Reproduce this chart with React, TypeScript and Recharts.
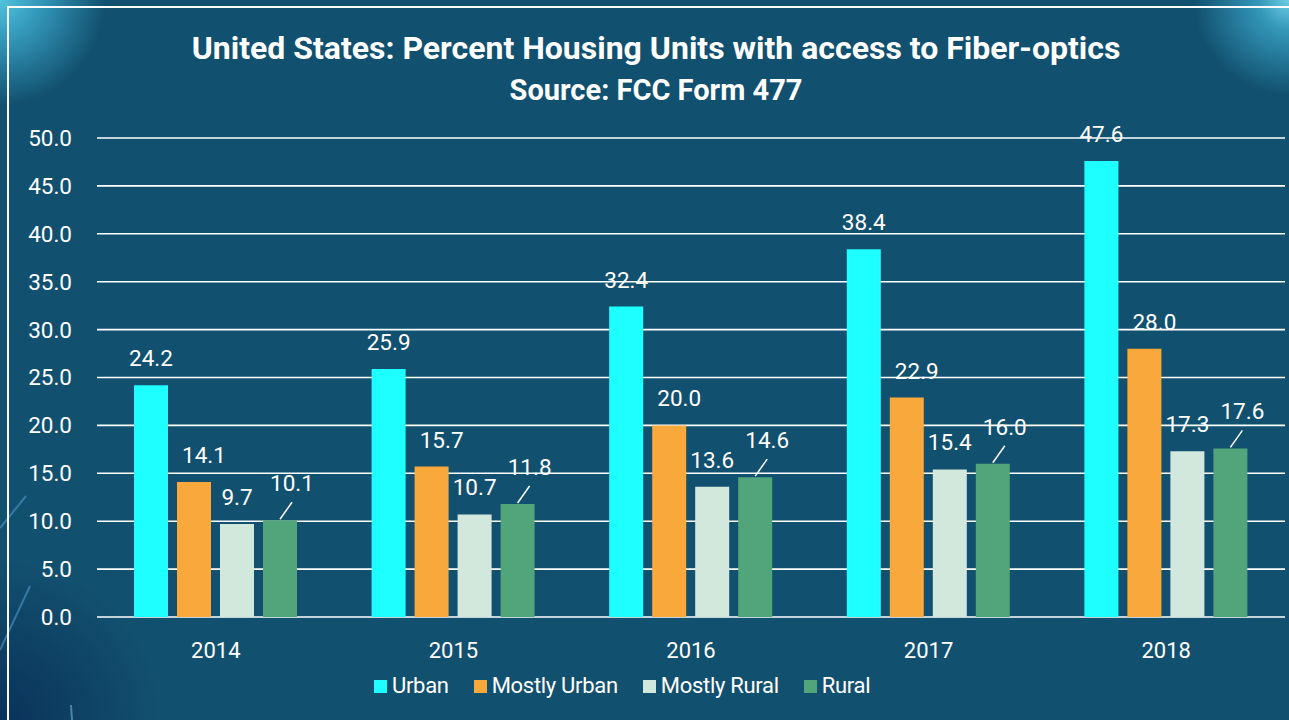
import React from 'react';
import { BarChart, Bar, XAxis, YAxis, CartesianGrid, LabelList } from 'recharts';

// ============================================================================
// Data
// ============================================================================

const years = ['2014', '2015', '2016', '2017', '2018'];
const urban = [24.2, 25.9, 32.4, 38.4, 47.6];
const mostlyUrban = [14.1, 15.7, 20.0, 22.9, 28.0];
const mostlyRural = [9.7, 10.7, 13.6, 15.4, 17.3];
const rural = [10.1, 11.8, 14.6, 16.0, 17.6];
const yTicks = [0, 5, 10, 15, 20, 25, 30, 35, 40, 45, 50];

const SERIES = [
  { key: 'urban', name: 'Urban', color: '#1EFFFF', values: urban },
  { key: 'mostlyUrban', name: 'Mostly Urban', color: '#F9A83B', values: mostlyUrban },
  { key: 'mostlyRural', name: 'Mostly Rural', color: '#D2E8DC', values: mostlyRural },
  { key: 'rural', name: 'Rural', color: '#52A57A', values: rural },
];

const chartData = years.map((year, i) => ({
  year,
  urban: urban[i],
  mostlyUrban: mostlyUrban[i],
  mostlyRural: mostlyRural[i],
  rural: rural[i],
}));

const FONT = 'Roboto, "Noto Sans", sans-serif';
const BG = '#12506F';
const LABEL_SIZE = 22.5;

// ============================================================================
// Labels
// ============================================================================

// eslint-disable-next-line @typescript-eslint/no-explicit-any
const makeLabel = (dx: number) => (props: any) => {
  const { x, y, width, value } = props;
  const cx = x + width / 2;
  return (
    <text
      x={cx + dx}
      y={y - 27}
      fill="#fff"
      fontSize={LABEL_SIZE}
      fontFamily={FONT}
      textAnchor="middle"
      dominantBaseline="central"
    >
      {Number(value).toFixed(1)}
    </text>
  );
};

// leader line label used for the Rural series
// eslint-disable-next-line @typescript-eslint/no-explicit-any
const RuralLabel = (props: any) => {
  const { x, y, width, value } = props;
  const cx = x + width / 2;
  return (
    <g>
      <line x1={cx} y1={y - 1} x2={cx + 12} y2={y - 18} stroke="#fff" strokeWidth={1.5} />
      <text
        x={cx + 12}
        y={y - 37}
        fill="#fff"
        fontSize={LABEL_SIZE}
        fontFamily={FONT}
        textAnchor="middle"
        dominantBaseline="central"
      >
        {Number(value).toFixed(1)}
      </text>
    </g>
  );
};

const labelFor: Record<string, any> = {
  urban: makeLabel(0),
  mostlyUrban: makeLabel(10),
  mostlyRural: makeLabel(0),
  rural: RuralLabel,
};

// ============================================================================
// Legend
// ============================================================================

const CustomLegend = () => (
  <div
    style={{
      position: 'absolute',
      left: 374,
      top: 672,
      display: 'flex',
      alignItems: 'center',
      fontFamily: FONT,
      fontSize: 22,
      letterSpacing: -0.3,
      lineHeight: '28px',
      color: '#fff',
      whiteSpace: 'nowrap',
    }}
  >
    {SERIES.map((s) => (
      <div key={s.key} style={{ display: 'flex', alignItems: 'center', marginRight: 25 }}>
        <span style={{ width: 13, height: 13, background: s.color, display: 'inline-block', marginRight: 5 }} />
        <span>{s.name}</span>
      </div>
    ))}
  </div>
);

// ============================================================================
// Component
// ============================================================================

export default function App() {
  return (
    <div
      style={{
        position: 'absolute',
        left: 0,
        top: 0,
        width: 1289,
        height: 720,
        overflow: 'hidden',
        fontFamily: FONT,
        background: [
          'radial-gradient(circle at 0px 0px, rgba(80,195,220,1) 0px, rgba(60,170,205,0.85) 35px, rgba(18,80,111,0) 105px)',
          'radial-gradient(circle at 1289px 0px, rgba(110,205,228,1) 0px, rgba(60,170,205,0.8) 30px, rgba(18,80,111,0) 95px)',
          'radial-gradient(circle at 0px 720px, rgba(10,50,90,1) 0px, rgba(18,80,111,0) 160px)',
          BG,
        ].join(', '),
      }}
    >
      {/* decorative streaks */}
      <svg width={1289} height={720} style={{ position: 'absolute', left: 0, top: 0 }}>
        <line x1={0} y1={528} x2={26} y2={496} stroke="#5aa8e0" strokeOpacity={0.5} strokeWidth={2} />
        <line x1={0} y1={650} x2={30} y2={586} stroke="#5aa8e0" strokeOpacity={0.5} strokeWidth={2} />
        <line x1={71} y1={705} x2={72} y2={720} stroke="#8cc8f0" strokeOpacity={0.5} strokeWidth={2} />
      </svg>
      {/* frame */}
      <div
        style={{
          position: 'absolute',
          left: 7,
          top: 6,
          width: 1300,
          height: 800,
          border: '2px solid #ffffff',
          boxSizing: 'border-box',
        }}
      />
      <div
        style={{
          position: 'absolute',
          left: 0,
          width: 1289,
          top: 28,
          textAlign: 'center',
          color: '#fff',
          fontWeight: 700,
          fontSize: 32,
          lineHeight: '40px',
          paddingLeft: 23,
          boxSizing: 'border-box',
        }}
      >
        United States: Percent Housing Units with access to Fiber-optics
      </div>
      <div
        style={{
          position: 'absolute',
          left: 0,
          width: 1289,
          top: 73,
          textAlign: 'center',
          color: '#fff',
          fontWeight: 700,
          fontSize: 29,
          lineHeight: '34px',
          paddingLeft: 23,
          boxSizing: 'border-box',
        }}
      >
        Source: FCC Form 477
      </div>
      <BarChart
        width={1289}
        height={720}
        data={chartData}
        margin={{ top: 138, right: 4, bottom: 0, left: 0 }}
        barSize={34}
        barGap={9}
        style={{ position: 'absolute', left: 0, top: 0 }}
      >
        <CartesianGrid vertical={false} stroke="#ffffff" strokeWidth={1.6} />
        <XAxis
          dataKey="year"
          axisLine={false}
          tickLine={false}
          tickSize={0}
          tickMargin={25}
          height={103}
          tick={{ fill: '#fff', fontSize: 22, fontFamily: FONT }}
        />
        <YAxis
          domain={[0, 50]}
          ticks={yTicks}
          width={97}
          axisLine={false}
          tickLine={false}
          tickSize={0}
          tickMargin={25}
          tickFormatter={(v: number) => v.toFixed(1)}
          tick={{ fill: '#fff', fontSize: 22.5, fontFamily: FONT }}
        />
        {SERIES.map((s) => (
          <Bar key={s.key} dataKey={s.key} name={s.name} fill={s.color} isAnimationActive={false}>
            <LabelList dataKey={s.key} content={labelFor[s.key]} />
          </Bar>
        ))}
      </BarChart>
      <CustomLegend />
    </div>
  );
}
